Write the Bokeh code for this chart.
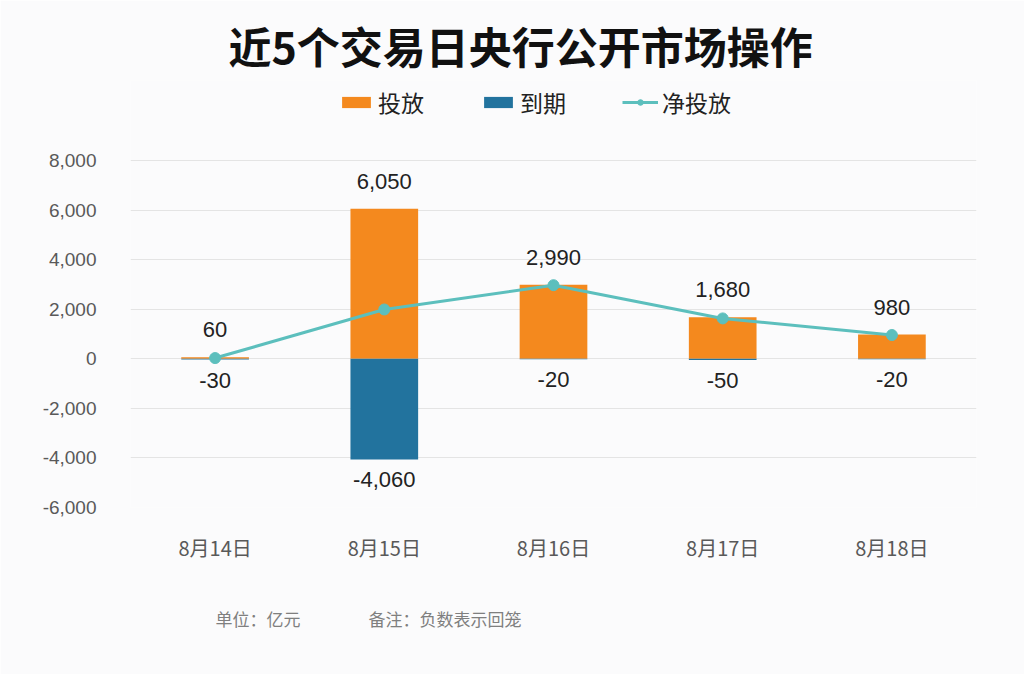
from bokeh.plotting import figure
from bokeh.models import (ColumnDataSource, LabelSet, Legend, LegendItem, Title,
                          NumeralTickFormatter, FixedTicker, Range1d)
from bokeh.core.properties import value
from bokeh.embed import file_html
from bokeh.resources import INLINE

dates = ["8月14日", "8月15日", "8月16日", "8月17日", "8月18日"]
injection = [60, 6050, 2990, 1680, 980]
maturity = [-30, -4060, -20, -50, -20]
net = [30, 1990, 2970, 1630, 960]
y_ticks = [-6000, -4000, -2000, 0, 2000, 4000, 6000, 8000]

src = ColumnDataSource(dict(
    x=dates, inj=injection, mat=maturity, net=net,
    inj_lbl=[f"{v:,}" for v in injection],
    mat_lbl=[f"{v:,}" for v in maturity],
    zero=[0] * len(dates),
))

BG = "#fbfbfc"
CJK = "Noto Sans CJK SC"
NUM = "Liberation Sans"

p = figure(x_range=dates, width=1024, height=674, output_backend="svg",
           toolbar_location=None, background_fill_color=BG, border_fill_color=BG,
           min_border_left=130, min_border_right=48, min_border_top=80,
           min_border_bottom=167, outline_line_color=None)
# extra room above 8,000 holds the legend
p.y_range = Range1d(-6000, 11230)

r_inj = p.vbar(x="x", top="inj", bottom="zero", width=0.4, source=src,
               fill_color="#f4891e", line_color=None)
r_mat = p.vbar(x="x", top="zero", bottom="mat", width=0.4, source=src,
               fill_color="#22739e", line_color=None)
r_line = p.line(x="x", y="net", source=src, line_color="#5cbfbd", line_width=3)
r_pts = p.scatter(x="x", y="net", source=src, size=11, fill_color="#5cbfbd",
                  line_color="#5cbfbd")

p.add_layout(LabelSet(x="x", y="inj", text="inj_lbl", source=src, y_offset=20,
                      text_align="center", text_baseline="bottom",
                      text_font=value(NUM), text_font_size="22px", text_color="#222222"))
p.add_layout(LabelSet(x="x", y="mat", text="mat_lbl", source=src, y_offset=-13,
                      text_align="center", text_baseline="top",
                      text_font=value(NUM), text_font_size="22px", text_color="#222222"))

p.yaxis.ticker = FixedTicker(ticks=y_ticks)
p.yaxis.formatter = NumeralTickFormatter(format="0,0")
for ax in (p.xaxis[0], p.yaxis[0]):
    ax.axis_line_color = None
    ax.major_tick_line_color = None
    ax.minor_tick_line_color = None
    ax.major_label_text_color = "#595959"
p.yaxis.major_label_text_font = NUM
p.yaxis.major_label_text_font_size = "19px"
p.yaxis.major_label_standoff = 28
p.xaxis.major_label_text_font = CJK
p.xaxis.major_label_text_font_size = "20px"
p.xaxis.major_label_standoff = 19
p.xgrid.grid_line_color = None
p.ygrid.grid_line_color = "#e4e4e4"
p.ygrid.grid_line_width = 1

legend = Legend(items=[
    LegendItem(label="投放", renderers=[r_inj]),
    LegendItem(label="到期", renderers=[r_mat]),
    LegendItem(label="净投放", renderers=[r_line, r_pts]),
], orientation="horizontal", location=(208, 388), background_fill_alpha=0,
   border_line_color=None, label_text_font=CJK, label_text_font_size="23px",
   label_text_color="#222222", glyph_width=36, glyph_height=14, spacing=56,
   padding=2, margin=0, label_standoff=4)
p.add_layout(legend, "center")

p.title.text = "近5个交易日央行公开市场操作"
p.title.align = "left"
p.title.offset = 98
p.title.text_font = CJK
p.title.text_font_size = "43px"
p.title.text_font_style = "bold"
p.title.text_color = "#111111"

spacer = Title(text=" ", text_font_size="20px")
p.add_layout(spacer, "below")
foot = Title(text="单位：亿元\u3000\u3000\u3000\u3000备注：负数表示回笼", align="left",
             offset=85, text_font=CJK, text_font_size="17px", text_font_style="normal",
             text_color="#7f7f7f")
p.add_layout(foot, "below")

open("out.html", "w").write(file_html(p, INLINE))
